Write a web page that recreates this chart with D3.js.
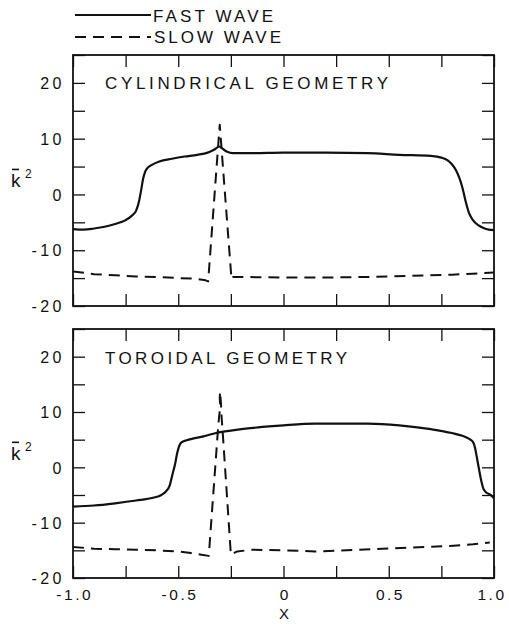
<!DOCTYPE html>
<html><head><meta charset="utf-8">
<script src="https://cdn.jsdelivr.net/npm/d3@7"></script>
<style>
html,body{margin:0;padding:0;background:#fff;}
svg{display:block;}
text{font-family:"Liberation Sans",Arial,Helvetica,sans-serif;fill:#111;}
</style></head><body>
<svg id="chart" width="509" height="624"></svg>
<script>
// Axis ticks and labels
const xTickValues = [-1, -0.75, -0.5, -0.25, 0, 0.25, 0.5, 0.75, 1];
const xLabelValues = [-1, -0.5, 0, 0.5, 1];
const yTickValues = [-20, -15, -10, -5, 0, 5, 10, 15, 20, 25];
const yLabelValues = [-20, -10, 0, 10, 20];
const seriesNames = ["FAST WAVE", "SLOW WAVE"];
const panelTitles = ["CYLINDRICAL GEOMETRY", "TOROIDAL GEOMETRY"];

// Cylindrical geometry: fast wave
const cylFastX = [-1.0,-0.95,-0.9,-0.85,-0.8,-0.75,-0.72,-0.70,-0.688,-0.677,-0.667,-0.657,-0.645,-0.625,-0.59,-0.53,-0.47,-0.41,-0.36,-0.33,-0.305,-0.29,-0.27,-0.24,-0.15,0.0,0.2,0.4,0.55,0.7,0.75,0.78,0.80,0.82,0.835,0.85,0.865,0.88,0.90,0.925,0.95,0.975,1.0];
const cylFastK = [-6.2,-6.3,-6.1,-5.8,-5.3,-4.6,-3.8,-2.9,-1.5,0.6,2.8,4.1,4.8,5.3,5.9,6.4,6.8,7.1,7.5,8.0,8.6,8.2,7.7,7.4,7.4,7.5,7.5,7.4,7.1,6.9,6.6,6.1,5.4,4.3,3.0,1.2,-1.2,-3.2,-4.6,-5.5,-6.0,-6.3,-6.4];
// Cylindrical geometry: slow wave
const cylSlowX = [-1.0,-0.9,-0.8,-0.7,-0.6,-0.5,-0.42,-0.37,-0.358,-0.303,-0.247,-0.24,-0.2,0.0,0.2,0.4,0.6,0.8,0.9,1.0];
const cylSlowK = [-13.8,-14.3,-14.5,-14.7,-14.8,-15.0,-15.1,-15.4,-15.6,12.5,-15.2,-14.8,-14.8,-14.9,-14.9,-14.8,-14.6,-14.4,-14.2,-14.0];

// Toroidal geometry: fast wave
const torFastX = [-1.0,-0.9,-0.8,-0.7,-0.62,-0.58,-0.56,-0.54,-0.527,-0.515,-0.505,-0.495,-0.485,-0.46,-0.44,-0.38,-0.32,-0.2,-0.1,0.0,0.15,0.3,0.4,0.55,0.7,0.8,0.85,0.88,0.90,0.91,0.92,0.93,0.94,0.95,0.965,0.98,0.99,1.0];
const torFastK = [-7.1,-6.9,-6.5,-6.0,-5.5,-5.0,-4.4,-3.2,-1.2,0.6,2.6,3.9,4.5,4.9,5.1,5.6,6.2,6.9,7.3,7.6,7.9,7.9,7.9,7.6,6.9,6.2,5.7,5.2,4.6,3.5,1.5,-0.6,-2.5,-3.9,-4.6,-4.9,-5.2,-5.6];
// Toroidal geometry: slow wave
const torSlowX = [-1.0,-0.9,-0.8,-0.7,-0.6,-0.5,-0.44,-0.39,-0.355,-0.31,-0.305,-0.300,-0.303,-0.301,-0.297,-0.294,-0.29,-0.25,-0.22,-0.15,0.0,0.15,0.3,0.47,0.6,0.79,0.9,0.98];
const torSlowK = [-14.4,-14.7,-14.8,-14.9,-15.0,-15.2,-15.5,-15.8,-16.0,7.5,9.5,11.0,12.5,13.7,11.5,9.0,7.0,-15.8,-15.2,-14.9,-15.0,-15.2,-15.0,-14.7,-14.5,-14.2,-13.9,-13.6];

const zip = (xs, ks) => xs.map((v, i) => [v, ks[i]]);

const panels = [
  { top: 55, bottom: 306, title: panelTitles[0], titleLen: 283, titleY: 89,
    fast: zip(cylFastX, cylFastK), slow: zip(cylSlowX, cylSlowK), xLabels: false },
  { top: 329, bottom: 578, title: panelTitles[1], titleLen: 242, titleY: 364,
    fast: zip(torFastX, torFastK), slow: zip(torSlowX, torSlowK), xLabels: true }
];

const svg = d3.select("#chart");
const x = d3.scaleLinear().domain([-1, 1]).range([73, 494]);
const TICK = 12;
const INK = "#111";

// legend
const legend = svg.append("g");
legend.append("line").attr("x1", 75).attr("x2", 151).attr("y1", 15).attr("y2", 15)
  .attr("stroke", INK).attr("stroke-width", 2);
legend.append("line").attr("x1", 75).attr("x2", 151).attr("y1", 37).attr("y2", 37)
  .attr("stroke", INK).attr("stroke-width", 2).attr("stroke-dasharray", "11,7");
legend.append("text").attr("x", 153).attr("y", 22).attr("font-size", 17)
  .attr("textLength", 120).attr("lengthAdjust", "spacing").text(seriesNames[0]);
legend.append("text").attr("x", 154).attr("y", 43).attr("font-size", 17)
  .attr("textLength", 127).attr("lengthAdjust", "spacing").text(seriesNames[1]);

const fmtX = d => d === 0 ? "0" : d.toFixed(1);

panels.forEach(p => {
  const y = d3.scaleLinear().domain([-20, 25]).range([p.bottom, p.top]);
  const g = svg.append("g");

  const styleAxis = sel => {
    sel.select(".domain").remove();
    sel.selectAll(".tick line").attr("stroke", INK).attr("stroke-width", 1.3);
    sel.selectAll(".tick text").attr("fill", INK)
      .style("font-family", '"Liberation Sans",Arial,sans-serif');
  };

  g.append("g").attr("transform", `translate(${x.range()[0]},0)`)
    .call(d3.axisLeft(y).tickValues(yTickValues).tickSize(-TICK).tickPadding(8)
      .tickFormat(d => yLabelValues.includes(d) ? String(d) : ""))
    .call(styleAxis)
    .call(s => s.selectAll(".tick text").attr("font-size", 16)
      .attr("letter-spacing", "3.5px").attr("dy", "0.36em"));

  g.append("g").attr("transform", `translate(${x.range()[1]},0)`)
    .call(d3.axisRight(y).tickValues(yTickValues).tickSize(-TICK).tickFormat(""))
    .call(styleAxis);

  g.append("g").attr("transform", `translate(0,${p.top})`)
    .call(d3.axisTop(x).tickValues(xTickValues).tickSize(-TICK).tickFormat(""))
    .call(styleAxis);

  g.append("g").attr("transform", `translate(0,${p.bottom})`)
    .call(d3.axisBottom(x).tickValues(xTickValues).tickSize(-TICK).tickPadding(11)
      .tickFormat(d => p.xLabels && xLabelValues.includes(d) ? fmtX(d) : ""))
    .call(styleAxis)
    .call(s => s.selectAll(".tick text").attr("font-size", 15.5)
      .attr("letter-spacing", "2.5px")
      .attr("dx", d => d === 1 ? "-2.5px" : "1.2px"));

  // frame
  g.append("rect").attr("x", x.range()[0]).attr("y", p.top)
    .attr("width", x.range()[1] - x.range()[0]).attr("height", p.bottom - p.top)
    .attr("fill", "none").attr("stroke", INK).attr("stroke-width", 1.8);

  // curves
  const clipId = "clip" + p.top;
  svg.append("clipPath").attr("id", clipId).append("rect")
    .attr("x", x.range()[0]).attr("y", p.top)
    .attr("width", x.range()[1] - x.range()[0]).attr("height", p.bottom - p.top);

  const smooth = d3.line().x(d => x(d[0])).y(d => y(d[1])).curve(d3.curveMonotoneX);
  const straight = d3.line().x(d => x(d[0])).y(d => y(d[1]));

  g.append("path").datum(p.fast).attr("d", smooth)
    .attr("fill", "none").attr("stroke", INK).attr("stroke-width", 2.2)
    .attr("clip-path", `url(#${clipId})`);
  g.append("path").datum(p.slow).attr("d", straight)
    .attr("fill", "none").attr("stroke", INK).attr("stroke-width", 2)
    .attr("stroke-dasharray", "11,7").attr("stroke-linejoin", "round")
    .attr("clip-path", `url(#${clipId})`);

  // panel title
  g.append("text").attr("x", 105).attr("y", p.titleY).attr("font-size", 17)
    .attr("textLength", p.titleLen).attr("lengthAdjust", "spacing").text(p.title);

  // y-axis label: k-bar squared
  const zeroY = y(0);
  const lab = g.append("g");
  lab.append("text").attr("x", 11).attr("y", zeroY - 7).attr("font-size", 19).text("k");
  lab.append("line").attr("x1", 12).attr("x2", 19).attr("y1", zeroY - 25).attr("y2", zeroY - 25)
    .attr("stroke", INK).attr("stroke-width", 1.6);
  lab.append("text").attr("x", 25).attr("y", zeroY - 16).attr("font-size", 12).text("2");
});

// x-axis title
svg.append("text").attr("x", 284).attr("y", 619).attr("text-anchor", "middle")
  .attr("font-size", 15).text("X");
</script>
</body></html>
